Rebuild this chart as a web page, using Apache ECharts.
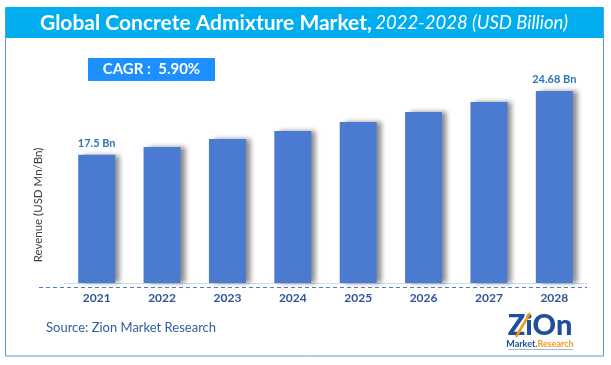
<!DOCTYPE html>
<html><head><meta charset="utf-8">
<script src="https://cdn.jsdelivr.net/npm/echarts@6/dist/echarts.min.js"></script>
<style>html,body{margin:0;padding:0;background:#fff;}#c{width:611px;height:365px;}</style>
</head><body><div id="c"></div>
<script>
const years = ['2021','2022','2023','2024','2025','2026','2027','2028'];
const revenue = [17.5, 18.36, 19.26, 20.16, 21.18, 22.31, 23.44, 24.68];
const labelIndexes = [0, 7];
const labelTexts = ['17.5 Bn', '', '', '', '', '', '', '24.68 Bn'];

const chart = echarts.init(document.getElementById('c'));
const font = 'Lato, "Open Sans", sans-serif';
const seriesData = revenue.map((v, i) => ({
  value: v,
  label: { show: labelIndexes.includes(i), formatter: labelTexts[i] }
}));
chart.setOption({
  animation: false,
  grid: { left: 64, right: 24, top: 44, bottom: 82 },
  xAxis: {
    type: 'category', data: years,
    axisLine: { lineStyle: { color: '#d9d9d9', width: 1 } },
    axisTick: { show: false },
    axisLabel: { color: '#2F5597', fontWeight: 'bold', fontSize: 12, margin: 9, fontFamily: font }
  },
  yAxis: {
    type: 'value', min: 3, max: 30, show: false,
    splitLine: { show: false }
  },
  series: [{
    type: 'bar', data: seriesData, barWidth: 37,
    itemStyle: { color: '#4A7BD0', shadowColor: 'rgba(0,0,0,0.45)', shadowBlur: 5, shadowOffsetX: 5, shadowOffsetY: 0 },
    label: { position: 'top', distance: 6, color: '#2E75B6', fontWeight: 'bold', fontSize: 11, fontFamily: font }
  }],
  graphic: [
    { type: 'rect', shape: { x: 5.5, y: 7.5, width: 598, height: 348.5 }, style: { fill: 'none', stroke: '#5B9BD5', lineWidth: 1 }, z: 1 },
    { type: 'rect', shape: { x: 6, y: 7, width: 597, height: 31 }, style: { fill: '#00AEEF' }, z: 2 },
    { type: 'text', x: 304, y: 23, style: {
        text: '{a|Global Concrete Admixture Market,} {b|2022-2028 (USD Billion)}',
        align: 'center', verticalAlign: 'middle',
        rich: {
          a: { fill: '#fff', fontWeight: 'bold', fontSize: 21, fontFamily: font },
          b: { fill: '#fff', fontStyle: 'italic', fontSize: 18.5, fontFamily: font }
        }
      }, z: 3 },
    { type: 'rect', shape: { x: 88, y: 58, width: 127, height: 23 }, style: { fill: '#1E8FFF' }, z: 2 },
    { type: 'text', x: 151.5, y: 69.5, style: { text: 'CAGR :  5.90%', align: 'center', verticalAlign: 'middle', fill: '#fff', fontWeight: 'bold', fontSize: 15, fontFamily: font }, z: 3 },
    { type: 'line', shape: { x1: 39, y1: 287.5, x2: 587, y2: 287.5 }, style: { stroke: '#4A7BD0', lineWidth: 1, lineDash: [4, 3] }, z: 2 },
    { type: 'text', x: 38, y: 205, rotation: Math.PI / 2, style: { text: 'Revenue (USD Mn/Bn)', align: 'center', verticalAlign: 'middle', fill: '#404040', fontSize: 11.5, fontFamily: font }, z: 3 },
    { type: 'text', x: 46, y: 328, style: { text: 'Source: Zion Market Research', align: 'left', verticalAlign: 'middle', fill: '#2F5F9E', fontSize: 13, fontFamily: font }, z: 3 },
    { type: 'text', x: 540, y: 326, style: { text: 'ZiOn', align: 'center', verticalAlign: 'middle', fill: '#1F4E9A', fontWeight: 900, fontSize: 29, fontFamily: font }, z: 3 },
    { type: 'line', shape: { x1: 516, y1: 337, x2: 530, y2: 313 }, style: { stroke: '#F7941D', lineWidth: 2.5 }, z: 4 },
    { type: 'text', x: 540, y: 344, style: {
        text: '{m|Market.}{r|Research}', align: 'center', verticalAlign: 'middle',
        rich: {
          m: { fill: '#1F4E9A', fontWeight: 'bold', fontSize: 9, fontFamily: font },
          r: { fill: '#F7941D', fontWeight: 'bold', fontSize: 9, fontFamily: font }
        }
      }, z: 3 },
    { type: 'line', shape: { x1: 508, y1: 349.5, x2: 573, y2: 349.5 }, style: { stroke: '#9DB7E0', lineWidth: 1 }, z: 3 }
  ]
});
</script>
</body></html>
